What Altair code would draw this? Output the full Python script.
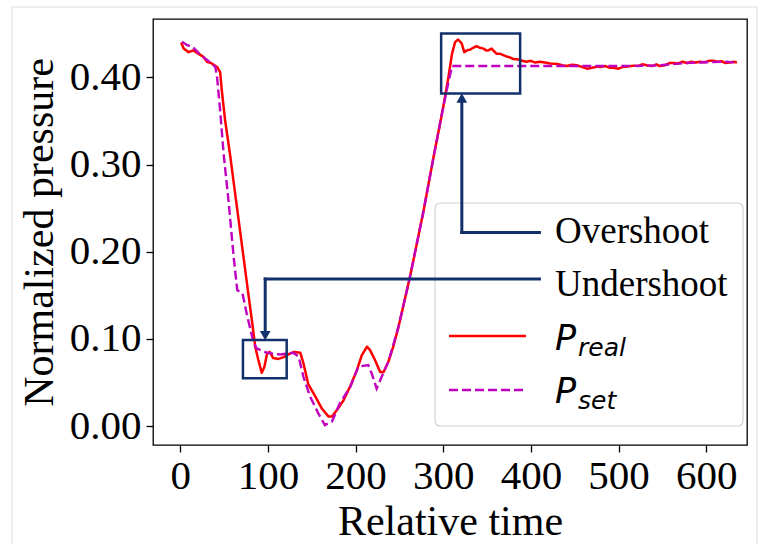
import altair as alt
import pandas as pd

# Measured pressure (P_real) over relative time
time_real = [1, 4, 9.5, 15, 21, 26.5, 30.5, 36, 42, 45.5, 47.5, 51, 57, 61, 66.5, 72, 78, 82,
             85.5, 89, 93, 96, 99, 102, 106, 112, 118, 125, 130, 137, 140.5, 146, 154, 161.5,
             169, 173, 178.5, 186, 194, 201.5, 207, 213, 216.5, 222, 228, 232, 237.5, 243, 249,
             262, 277, 289, 300, 306, 310, 313.5, 317, 321, 324, 327, 331, 334, 338, 342, 346,
             349, 351.5, 355, 358, 361, 365, 368.5, 372, 376, 380, 386, 390, 395, 400, 405, 410,
             416, 422, 430, 436, 441, 447, 452, 458, 464, 470, 476, 479, 485, 490, 494, 500,
             505, 511, 517, 522, 527, 532, 538, 543, 547, 553, 558, 563, 568, 573, 578, 583,
             588, 593, 598, 603, 608, 613, 618, 622, 627, 631, 635]
p_real = [0.440, 0.433, 0.429, 0.431, 0.427, 0.4235, 0.418, 0.416, 0.412, 0.406, 0.384, 0.352,
          0.310, 0.279, 0.237, 0.195, 0.149, 0.119, 0.091, 0.076, 0.061, 0.068, 0.083, 0.085,
          0.078, 0.077, 0.079, 0.083, 0.085, 0.084, 0.072, 0.048, 0.034, 0.020, 0.011, 0.011,
          0.018, 0.029, 0.046, 0.064, 0.081, 0.091, 0.087, 0.076, 0.062, 0.062, 0.074, 0.091,
          0.114, 0.171, 0.244, 0.309, 0.366, 0.401, 0.427, 0.4405, 0.4435, 0.439, 0.429, 0.431,
          0.432, 0.434, 0.436, 0.434, 0.433, 0.431, 0.431, 0.433, 0.430, 0.427, 0.427, 0.4255,
          0.424, 0.423, 0.421, 0.4205, 0.419, 0.418, 0.419, 0.417, 0.418, 0.417, 0.416, 0.4155,
          0.414, 0.413, 0.4145, 0.414, 0.412, 0.410, 0.411, 0.4125, 0.412, 0.413, 0.411, 0.411,
          0.410, 0.412, 0.4125, 0.4135, 0.413, 0.415, 0.414, 0.413, 0.415, 0.413, 0.414, 0.4165,
          0.4165, 0.416, 0.418, 0.4165, 0.418, 0.417, 0.418, 0.4175, 0.419, 0.419, 0.418, 0.4185,
          0.4165, 0.417, 0.418, 0.417]

# Set-point pressure (P_set)
time_set = [2, 8, 14, 22, 28, 32, 40, 42, 45.5, 49.5, 55, 61, 65, 71, 76, 83, 87, 92, 99, 114,
            129, 135, 140.5, 148, 157.5, 165, 173, 182, 194, 203, 214.5, 218.5, 224, 230, 237.5,
            249, 262, 277, 289, 300, 306, 310, 350, 400, 450, 500, 540, 560, 575, 590, 605, 620,
            635]
p_set = [0.441, 0.437, 0.435, 0.427, 0.422, 0.419, 0.412, 0.400, 0.362, 0.312, 0.259, 0.193,
         0.156, 0.152, 0.128, 0.098, 0.089, 0.087, 0.084, 0.082, 0.084, 0.0795, 0.0565, 0.034,
         0.0145, 0.001, 0.005, 0.026, 0.045, 0.068, 0.070, 0.060, 0.043, 0.057, 0.074, 0.114,
         0.171, 0.244, 0.309, 0.366, 0.395, 0.413, 0.413, 0.413, 0.413, 0.413, 0.4135, 0.415,
         0.4165, 0.417, 0.4175, 0.418, 0.417]

x_ticks = [0, 100, 200, 300, 400, 500, 600]
y_ticks = [0.0, 0.1, 0.2, 0.3, 0.4]

# Highlight boxes: [undershoot, overshoot]
box_t0 = [71.5, 297.6]
box_t1 = [121.4, 387.7]
box_p0 = [0.0547, 0.3815]
box_p1 = [0.0986, 0.4503]

# Elbow connectors from the legend labels to the boxes
seg_t0 = [96.9, 96.9, 321.2, 321.2]
seg_t1 = [409.7, 96.9, 409.7, 321.2]
seg_p0 = [0.1686, 0.1686, 0.2221, 0.2221]
seg_p1 = [0.1686, 0.1055, 0.2221, 0.3746]

# Arrow heads at the box edges
head_t = [96.9, 321.2]
head_p = [0.0986, 0.3815]

NAVY = "#12306b"
SERIF = "Liberation Serif"
SANS = "DejaVu Sans"

W, H = 594, 426

xscale = alt.Scale(domain=[-31.1, 646.5], nice=False, zero=False)
yscale = alt.Scale(domain=[-0.0218, 0.467], nice=False, zero=False)
xaxis = alt.Axis(values=x_ticks, title="Relative time", format="d")
yaxis = alt.Axis(values=y_ticks, title="Normalized pressure", format=".2f")
X = alt.X("t:Q", scale=xscale, axis=xaxis)
Y = alt.Y("p:Q", scale=yscale, axis=yaxis)

real_df = pd.DataFrame({"t": time_real, "p": p_real})
set_df = pd.DataFrame({"t": time_set, "p": p_set})
box_df = pd.DataFrame({"t": box_t0, "t2": box_t1, "p": box_p0, "p2": box_p1})
seg_df = pd.DataFrame({"t": seg_t0, "t2": seg_t1, "p": seg_p0, "p2": seg_p1})
head_df = pd.DataFrame({"t": head_t, "p": head_p})
one = pd.DataFrame({"k": [0]})

# faint frame around the whole figure
figure_frame = alt.Chart(one).mark_rect(
    fillOpacity=0, stroke="#e9e9e9", strokeWidth=1.5
).encode(x=alt.value(-141), x2=alt.value(604), y=alt.value(-12), y2=alt.value(540))

legend_frame = alt.Chart(one).mark_rect(
    fill="white", fillOpacity=0.85, stroke="#d2d2d2", strokeWidth=1.2, cornerRadius=5
).encode(x=alt.value(282), x2=alt.value(590), y=alt.value(184), y2=alt.value(407))

real_line = alt.Chart(real_df).mark_line(
    color="#ff0000", strokeWidth=2.5, strokeJoin="round"
).encode(x=X, y=Y)
set_line = alt.Chart(set_df).mark_line(
    color="#bf00bf", strokeWidth=2.4, strokeDash=[9, 4]
).encode(x=X, y=Y)

boxes = alt.Chart(box_df).mark_rect(
    fillOpacity=0, stroke=NAVY, strokeWidth=2.5
).encode(x=X, x2="t2:Q", y=Y, y2="p2:Q")

connectors = alt.Chart(seg_df).mark_rule(
    color=NAVY, strokeWidth=3, strokeCap="square"
).encode(x=X, x2="t2:Q", y=Y, y2="p2:Q")

head_down = alt.Chart(head_df.iloc[[0]]).mark_point(
    shape="triangle-down", filled=True, size=115, color=NAVY, opacity=1, yOffset=-4.5
).encode(x=X, y=Y)
head_up = alt.Chart(head_df.iloc[[1]]).mark_point(
    shape="triangle-up", filled=True, size=115, color=NAVY, opacity=1, yOffset=4.5
).encode(x=X, y=Y)


def label(txt, x, y, size, font, style="normal"):
    return alt.Chart(one).mark_text(
        text=txt, align="left", baseline="alphabetic", font=font,
        fontSize=size, fontStyle=style, color="black"
    ).encode(x=alt.value(x), y=alt.value(y))


legend_items = [
    label("Overshoot", 402, 224, 37, SERIF),
    label("Undershoot", 402, 277, 37, SERIF),
    label("P", 402, 331, 35, SANS, "italic"),
    label("real", 425, 337, 25, SANS, "italic"),
    label("P", 402, 384, 35, SANS, "italic"),
    label("set", 425, 390, 25, SANS, "italic"),
    alt.Chart(one).mark_rule(color="#ff0000", strokeWidth=2.5).encode(
        x=alt.value(296), x2=alt.value(373), y=alt.value(317)),
    alt.Chart(one).mark_rule(color="#bf00bf", strokeWidth=2.4, strokeDash=[9, 4]).encode(
        x=alt.value(296), x2=alt.value(373), y=alt.value(371)),
]

chart = alt.layer(
    figure_frame, legend_frame, real_line, set_line, boxes, connectors, head_down, head_up,
    *legend_items
).properties(
    width=W, height=H,
    padding={"left": 153, "top": 19, "right": 22, "bottom": 99},
    autosize=alt.AutoSizeParams(type="none"),
    background="white",
).configure_view(
    stroke="black", strokeWidth=1.3
).configure_axis(
    grid=False, domain=False, ticks=True, tickColor="black", tickWidth=1.3, tickSize=7,
    labelFont=SERIF, labelFontSize=41, labelColor="black",
    titleFont=SERIF, titleFontSize=42, titleFontWeight="normal", titleColor="black",
).configure_axisX(
    labelPadding=4, titlePadding=5
).configure_axisY(
    labelPadding=5, titlePadding=8
)

chart.save("out.html", embed_options={"renderer": "svg", "actions": False})
